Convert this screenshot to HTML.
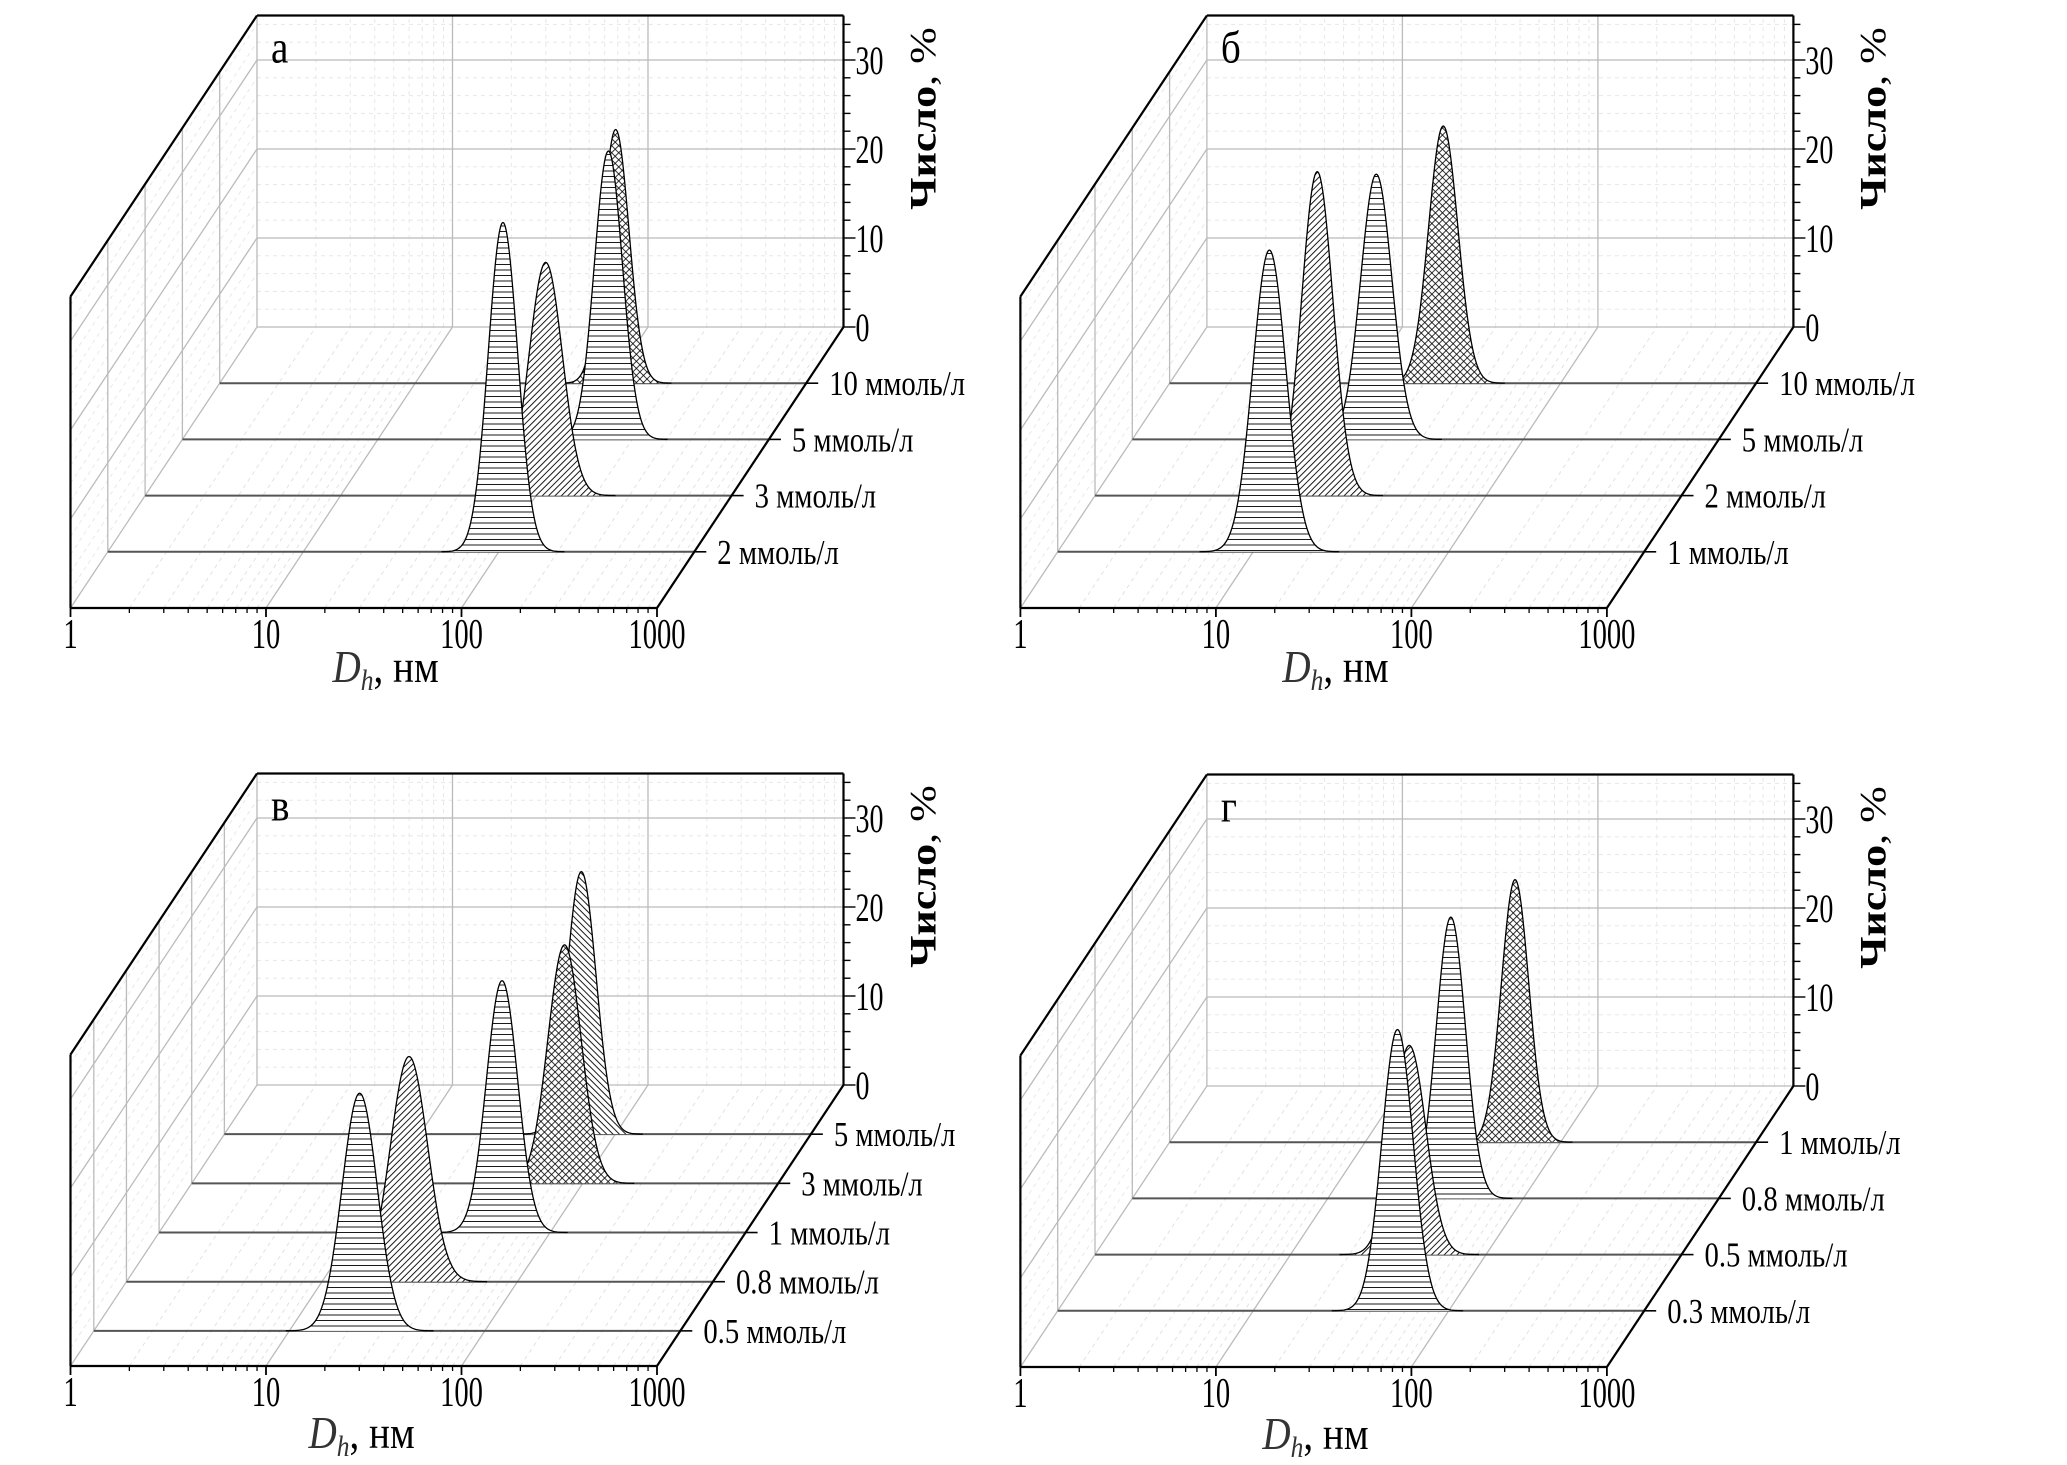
<!DOCTYPE html>
<html><head><meta charset="utf-8"><title>DLS distributions</title>
<style>
html,body{margin:0;padding:0;background:#fff;}
svg{display:block;}
text{font-family:"Liberation Serif","DejaVu Serif",serif;fill:#000;}
</style></head>
<body>
<svg id="chart" width="2067" height="1465" viewBox="0 0 2067 1465" xmlns="http://www.w3.org/2000/svg">
<defs>
<pattern id="p-h" patternUnits="userSpaceOnUse" width="10" height="5.5"><rect width="10" height="5.5" fill="#fff"/><line x1="0" y1="0.5" x2="10" y2="0.5" stroke="#000" stroke-width="0.9"/></pattern>
<pattern id="p-d" patternUnits="userSpaceOnUse" width="4.5" height="4.5" patternTransform="rotate(45)"><rect width="4.5" height="4.5" fill="#fff"/><line x1="0.5" y1="0" x2="0.5" y2="4.5" stroke="#000" stroke-width="0.9"/></pattern>
<pattern id="p-b" patternUnits="userSpaceOnUse" width="4.5" height="4.5" patternTransform="rotate(-45)"><rect width="4.5" height="4.5" fill="#fff"/><line x1="0.5" y1="0" x2="0.5" y2="4.5" stroke="#000" stroke-width="0.9"/></pattern>
<pattern id="p-x" patternUnits="userSpaceOnUse" width="5" height="5" patternTransform="rotate(45)"><rect width="5" height="5" fill="#fff"/><line x1="0.5" y1="0" x2="0.5" y2="5" stroke="#000" stroke-width="0.8"/><line x1="0" y1="0.5" x2="5" y2="0.5" stroke="#000" stroke-width="0.8"/></pattern>
</defs>
</svg>
<script>
// ---- data ----
const aLabels = ['2 ммоль/л','3 ммоль/л','5 ммоль/л','10 ммоль/л'];
const aPeakD = [105, 112, 151, 106];
const aPeakH = [37.0, 26.2, 32.4, 28.5];
const aSigma = [0.075, 0.085, 0.072, 0.068];
const aFill = ['h','d','h','x'];

const bLabels = ['1 ммоль/л','2 ммоль/л','5 ммоль/л','10 ммоль/л'];
const bPeakD = [12.1, 13.7, 17.7, 25.1];
const bPeakH = [33.9, 36.4, 29.8, 28.9];
const bSigma = [0.085, 0.08, 0.08, 0.075];
const bFill = ['h','d','h','x'];

const cLabels = ['0.5 ммоль/л','0.8 ммоль/л','1 ммоль/л','3 ммоль/л','5 ммоль/л'];
const cPeakD = [22.9, 27.9, 56.8, 80.7, 67.0];
const cPeakH = [26.7, 25.3, 28.3, 26.8, 29.5];
const cSigma = [0.09, 0.095, 0.08, 0.085, 0.075];
const cFill = ['h','d','h','x','b'];

const dLabels = ['0.3 ммоль/л','0.5 ммоль/л','0.8 ммоль/л','1 ммоль/л'];
const dPeakD = [54.7, 40.5, 42.6, 58.5];
const dPeakH = [31.6, 23.5, 31.6, 29.5];
const dSigma = [0.08, 0.085, 0.075, 0.07];
const dFill = ['h','d','h','x'];

const yTicks = [0, 10, 20, 30];
const xTickLabels = ['1','10','100','1000'];

// ---- layout ----
const NS = 'http://www.w3.org/2000/svg';
const svg = document.getElementById('chart');
const DW = 195.5, DX = 186.5, DY = -281, UY = 8.9, YMAX = 35;

function mk(tag, attrs, parent){
  const e = document.createElementNS(NS, tag);
  for (const k in attrs) e.setAttribute(k, attrs[k]);
  (parent||svg).appendChild(e);
  return e;
}

function drawPanel(P){
  const g = mk('g', {});
  
  
  const ox = P.ox, oy = P.oy;
  const n = P.labels.length;
  const tOf = i => P.t0 + P.ts * i;
  const X = (L, t) => ox + L * DW + DX * t;
  const Y = (v, t) => oy + DY * t - v * UY;
  const line = (x1,y1,x2,y2,st,w,dash,name) => {
    const l = mk('line',{x1,y1,x2,y2,stroke:st,'stroke-width':w},g);
    if (dash) l.setAttribute('stroke-dasharray', dash);
    
    
    return l;
  };
  for (let dec = 0; dec < 3; dec++) for (let m = 2; m <= 9; m++) {
    const L = dec + Math.log10(m);
    line(X(L,0),Y(0,0),X(L,1),Y(0,1),'#e2e2e2',1,'4,4','floor-minor-grid');
    line(X(L,1),Y(0,1),X(L,1),Y(YMAX,1),'#e8e8e8',1,'4,4','back-minor-grid');
  }
  for (let v = 2; v < YMAX; v += 2) {
    if (v % 10 === 0) continue;
    line(X(0,1),Y(v,1),X(3,1),Y(v,1),'#e8e8e8',1,'4,4','back-minor-grid');
    line(X(0,0),Y(v,0),X(0,1),Y(v,1),'#e8e8e8',1,'4,4','wall-minor-grid');
  }
  [1,2].forEach(L => {
    line(X(L,0),Y(0,0),X(L,1),Y(0,1),'#bbb',1.3,null,'floor-grid');
    line(X(L,1),Y(0,1),X(L,1),Y(YMAX,1),'#bbb',1.3,null,'back-grid');
  });
  yTicks.slice(1).forEach(v => {
    line(X(0,1),Y(v,1),X(3,1),Y(v,1),'#bbb',1.3,null,'back-grid');
    line(X(0,0),Y(v,0),X(0,1),Y(v,1),'#bbb',1.3,null,'wall-grid');
  });
  line(X(0,1),Y(0,1),X(3,1),Y(0,1),'#bbb',1.3,null,'floor-back-edge');
  line(X(0,1),Y(0,1),X(0,1),Y(YMAX,1),'#bbb',1.3,null,'back-left-edge');
  line(X(0,0),Y(0,0),X(0,1),Y(0,1),'#bbb',1.3,null,'wall-bottom-edge');
  for (let i = 0; i < n; i++) {
    const t = tOf(i);
    line(X(0,t),Y(0,t),X(0,t),Y(YMAX,t),'#bbb',1.3,null,'wall-series-grid');
  }
  for (let i = n - 1; i >= 0; i--) {
    const t = tOf(i);
    const mu = Math.log10(P.peakD[i]), s = P.sigma[i], h = P.peakH[i];
    line(X(0,t),Y(0,t),X(3,t),Y(0,t),'#555',2,null,'baseline-' + i);
    let d = '';
    const L0 = Math.max(0, mu - 4.2*s), L1 = Math.min(3, mu + 4.2*s);
    const N = 160;
    for (let k = 0; k <= N; k++) {
      const L = L0 + (L1 - L0) * k / N;
      const v = h * Math.exp(-0.5 * Math.pow((L - mu) / s, 2));
      d += (k ? 'L' : 'M') + X(L,t).toFixed(2) + ',' + Y(v,t).toFixed(2);
    }
    const area = mk('path',{d: d + 'Z', fill:'url(#p-' + P.fill[i] + ')', stroke:'none'}, g);
    
    
    const cur = mk('path',{d: d, fill:'none', stroke:'#000', 'stroke-width':1.3}, g);
    
    
  }
  line(X(0,0),Y(0,0),X(3,0),Y(0,0),'#000',2.2,null,'x-axis');
  line(X(0,0),Y(0,0),X(0,0),Y(YMAX,0),'#000',2.2,null,'front-left-edge');
  line(X(0,0),Y(YMAX,0),X(0,1),Y(YMAX,1),'#000',2.2,null,'wall-top-edge');
  line(X(0,1),Y(YMAX,1),X(3,1),Y(YMAX,1),'#000',2.2,null,'back-top-edge');
  line(X(3,0),Y(0,0),X(3,1),Y(0,1),'#000',2.2,null,'depth-axis');
  line(X(3,1),Y(0,1),X(3,1),Y(YMAX,1),'#000',2.2,null,'y-axis');
  for (let dec = 0; dec <= 3; dec++) {
    line(X(dec,0),Y(0,0),X(dec,0),Y(0,0)+9,'#000',1.8,null,'x-major-tick');
    if (dec < 3) for (let m = 2; m <= 9; m++) {
      const L = dec + Math.log10(m);
      line(X(L,0),Y(0,0),X(L,0),Y(0,0)+5,'#000',1.3,null,'x-minor-tick');
    }
  }
  xTickLabels.forEach((lab, k) => {
    const tx = mk('text',{'font-size':42,'text-anchor':'middle',transform:'translate(' + X(k,0) + ',' + (Y(0,0)+40) + ') scale(0.68,1)'}, g);
    tx.textContent = lab;
    
    
  });
  const xt = mk('text',{'font-size':46,transform:'translate(' + (ox+P.xtx) + ',' + (oy+P.xty) + ') scale(0.85,1)'}, g);
  xt.innerHTML = '<tspan font-style="italic" fill="#333">D</tspan><tspan font-style="italic" fill="#333" font-size="30" dy="8">h</tspan><tspan dy="-8">, нм</tspan>';
  
  
  for (let v = 0; v <= YMAX - 1; v += 2) {
    const major = v % 10 === 0;
    line(X(3,1),Y(v,1),X(3,1)+(major?12:7),Y(v,1),'#000',1.4,null, major ? 'y-major-tick' : 'y-minor-tick');
  }
  yTicks.forEach(v => {
    const tx = mk('text',{'font-size':40,transform:'translate(' + (X(3,1)+12) + ',' + (Y(v,1)+14) + ') scale(0.7,1)'}, g);
    tx.textContent = v;
    
    
  });
  const yt = mk('text',{'font-size':44,'text-anchor':'middle',transform:'translate(' + (X(3,1)+92) + ',' + (Y(YMAX,1)+103) + ') rotate(-90) scale(1,0.85)'}, g);
  yt.innerHTML = '<tspan font-weight="bold">Число</tspan>, %';
  
  
  for (let i = 0; i < n; i++) {
    const t = tOf(i);
    line(X(3,t),Y(0,t),X(3,t)+12,Y(0,t),'#000',1.6,null,'depth-tick');
    const tx = mk('text',{'font-size':35,transform:'translate(' + (X(3,t)+23) + ',' + (Y(0,t)+12) + ') scale(0.82,1)'}, g);
    tx.textContent = P.labels[i];
    
    
  }
  const pl = mk('text',{'font-size':46,transform:'translate(' + (X(0,1)+14) + ',' + (Y(YMAX,1)+47) + ') scale(0.85,1)'}, g);
  pl.textContent = P.letter;
  
  
}

drawPanel({id:'a', letter:'а', ox:70.5, oy:608, xtx:262, xty:74, t0:0.2, ts:0.2, labels:aLabels, peakD:aPeakD, peakH:aPeakH, sigma:aSigma, fill:aFill});
drawPanel({id:'b', letter:'б', ox:1020.4, oy:608, xtx:262, xty:74, t0:0.2, ts:0.2, labels:bLabels, peakD:bPeakD, peakH:bPeakH, sigma:bSigma, fill:bFill});
drawPanel({id:'c', letter:'в', ox:70.5, oy:1366, xtx:238, xty:82, t0:0.125, ts:0.175, labels:cLabels, peakD:cPeakD, peakH:cPeakH, sigma:cSigma, fill:cFill});
drawPanel({id:'d', letter:'г', ox:1020.4, oy:1367, xtx:242, xty:82, t0:0.2, ts:0.2, labels:dLabels, peakD:dPeakD, peakH:dPeakH, sigma:dSigma, fill:dFill});
</script>
</body></html>
